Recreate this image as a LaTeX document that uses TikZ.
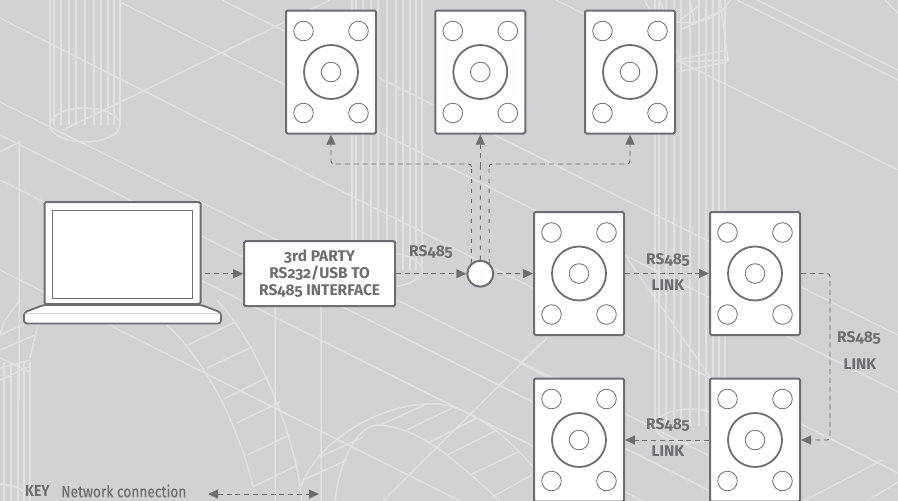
\documentclass[tikz,border=0pt]{standalone}
\usepackage{fontspec}
\setmainfont[Numbers=OldStyle]{Fira Sans}
\newfontfamily\keyfont[FakeStretch=.87]{Fira Sans}
\newfontfamily\keymedfont[FakeStretch=.86,FakeBold=.25]{Fira Sans}
\usetikzlibrary{arrows.meta}
\definecolor{wallgray}{HTML}{D1D2D4}
\definecolor{wireline}{HTML}{E0E1E3}
\definecolor{inkgray}{HTML}{6D6E71}
\tikzset{
 boxnode/.style={draw=inkgray,fill=white,line width=2pt,rounded corners=1.5pt,inner sep=0pt,text=inkgray,font=\bfseries\fontsize{15.5}{16.7}\selectfont,align=center},
 spknode/.style={boxnode,minimum width=90pt,minimum height=123pt},
 labnode/.style={text=inkgray,font=\bfseries\fontsize{15.5}{17}\selectfont,inner sep=0pt},
 link/.style={draw=inkgray,line width=.9pt,dash pattern=on 5pt off 3.8pt},
 stub/.style={draw=inkgray,line width=.9pt,dash pattern=on 4pt off 6pt},
 tip/.style={-{Triangle[length=10pt,width=9pt]}},
 wire/.style={draw=wireline,line width=1.5pt}
}
\newcommand{\spkr}[3]{%
\node[spknode] (#1) at (#2,#3) {};
\begin{scope}[shift={(#2,#3)}]
\foreach \dx/\dy in {-27.5/-41,27.5/-41,-27.5/41,27.5/41}{\draw[inkgray,line width=.8pt] (\dx,\dy) circle (9.8);}
\draw[inkgray,line width=1.8pt] (0,0) circle (27);\draw[inkgray,line width=.8pt] (0,0) circle (9.8);
\end{scope}}
\newcommand{\cylndr}[4]{%
\foreach \dx in {0,4,11,19,26,35,44,51,58,64,70}{\draw[wire,line width=1.3pt] (#1+\dx,#2)--(#1+\dx,#3);}
\draw[wire] (#1,#3) arc[start angle=180,end angle=360,x radius=35,y radius=-#4];\draw[wire] (#1,#3) arc[start angle=180,end angle=0,x radius=35,y radius=-#4];}
\begin{document}
\begin{tikzpicture}[x=1pt,y=-1pt]
\useasboundingbox (0,0) rectangle (898,501);
\clip (0,0) rectangle (898,501);
\fill[wallgray] (0,0) rectangle (898,501);
\begin{scope}[wire]
\draw (0,18)--(898,473) (120,2)--(898,392) (222,0)--(898,335) (0,102)--(800,501) (0,135)--(730,501) (0,180)--(643,501) (0,270)--(460,501);
\draw (737,0)--(898,80) (757,0)--(898,70) (556,0)--(898,170);
\draw (63,130)--(330,0) (0,152)--(19,142)--(19,400) (275,307)--(275,501) (321,307)--(321,501);
\draw (383,501)--(547,338)--(520,363)--(553,380) (625,255)--(710,377);
\draw (883,460)--(803,501) (898,482)--(867,501) (885,0)--(898,13);
\draw (167,325) .. controls (195,350) and (235,410) .. (253,487);
\draw (217,300) .. controls (255,340) and (295,430) .. (302,501);
\foreach \ax/\ay/\bx/\by in {188/345/235/322,207/368/252/347,224/399/268/377,237/423/280/402,247/455/290/435,253/487/298/465}{\draw (\ax,\ay)--(\bx,\by);}
\draw (300,490) .. controls (315,440) and (385,400) .. (440,404) .. controls (480,410) and (515,445) .. (540,475);
\draw (335,501) .. controls (340,460) and (355,430) .. (375,425) .. controls (420,425) and (460,465) .. (500,501);
\foreach \ax/\ay/\bx/\by in {303/480/347/460,320/457/363/437,380/425/427/404,405/431/452/408,428/443/477/418,447/455/497/430,472/474/518/452,492/497/532/475}{\draw (\ax,\ay)--(\bx,\by);}
\draw (38,325) .. controls (34,340) and (32,350) .. (30,358) (0,335)--(38,318) (0,350)--(35,335);
\draw (20,300) .. controls (10,312) and (3,322) .. (0,335);
\draw (645,0) .. controls (650,25) and (710,35) .. (730,0) (677,62)--(728,60)--(720,0) (677,60)--(727,50) (677,72)--(727,62) (660,0)--(680,60) (690,0)--(695,25);
\foreach \ax/\ay/\bx/\by in {680/30/727/8,680/20/700/5}{\draw (\ax,\ay)--(\bx,\by);}
\end{scope}
\cylndr{50}{0}{125}{17}
\cylndr{352}{0}{270}{17}
\cylndr{655}{0}{426}{17}
\cylndr{-40}{362}{501}{17}
\begin{scope}[wire]\draw (0,358)--(30,372) (0,368)--(30,360) (0,380)--(30,366);\end{scope}
% units
\spkr{spkA}{331}{72}
\spkr{spkB}{480.3}{72}
\spkr{spkC}{630}{72}
\spkr{spkD}{579}{273.5}
\spkr{spkE}{755}{273.5}
\spkr{spkF}{755}{440}
\spkr{spkG}{579}{440}
% laptop
\draw[inkgray,fill=white,line width=1.8pt,rounded corners=3pt] (43.5,305)--(24,312.5)--(24,323.5)--(221,323.5)--(221,312.5)--(201.5,305)--cycle;
\draw[wallgray,line width=.8pt] (25,313.3)--(220,313.3);
\node[boxnode,minimum width=156pt,minimum height=102pt] (laptop) at (122.5,253) {};
\node[draw=inkgray,fill=white,line width=.8pt,minimum width=140pt,minimum height=88pt,inner sep=0pt] (screen) at (122.5,254.3) {};
\node[boxnode,minimum width=151pt,minimum height=65pt] (iface) at (319.6,273.7) {3rd PARTY\\RS232/USB TO\\RS485 INTERFACE};
\node[circle,draw=inkgray,fill=white,line width=2pt,minimum size=26pt,inner sep=0pt] (hub) at (480.3,273.7) {};
\node[labnode] (labA) at (431,252) {RS485};
\node[labnode] (labB) at (668,260) {RS485};\node[labnode] (labC) at (668,285) {LINK};
\node[labnode] (labD) at (859,338) {RS485};\node[labnode] (labE) at (860,364) {LINK};
\node[labnode] (labF) at (668,425) {RS485};\node[labnode] (labG) at (668,451) {LINK};
\node[labnode,anchor=west,font=\keyfont\bfseries\fontsize{16}{18}\selectfont] (keyA) at (25,491) {KEY};
\node[labnode,anchor=west,font=\keymedfont\fontsize{16}{18}\selectfont] (keyB) at (61,491) {Network connection};
\coordinate (busL) at (471.6,167);\coordinate (busM) at (480.3,167);\coordinate (busR) at (489,167);
\coordinate (cnrL) at (471.6,164);\coordinate (cnrR) at (489,164);
\coordinate (turnA) at (830,273.5);\coordinate (turnB) at (830,440);
\coordinate (keyL) at (208,494);\coordinate (keyR) at (319,494);
\draw[link,tip,shorten <=3.5pt] (laptop.east|-iface)--(iface.west);
\draw[link,tip] (iface.east)--(hub.west);
\draw[link,tip,shorten <=3pt] (hub.east)--(spkD.west);
\draw[link,tip] (spkD.east)--(spkE.west);
\draw[link,tip,rounded corners=3pt] (spkE.east)--(turnA)--(turnB)--(spkF.east);
\draw[link,tip] (spkF.west)--(spkG.east);
\draw[stub] (hub.130)--(busL) (hub.north)--(busM) (hub.50)--(busR);
\draw[link,tip,rounded corners=3pt] (busL)--(cnrL)-|(spkA.south);
\draw[link,tip,rounded corners=3pt] (busR)--(cnrR)-|(spkC.south);
\draw[link,tip] (busM)--(spkB.south);
\draw[link,{Triangle[length=10pt,width=9pt]}-{Triangle[length=10pt,width=9pt]}] (keyL)--(keyR);
\end{tikzpicture}
\end{document}
